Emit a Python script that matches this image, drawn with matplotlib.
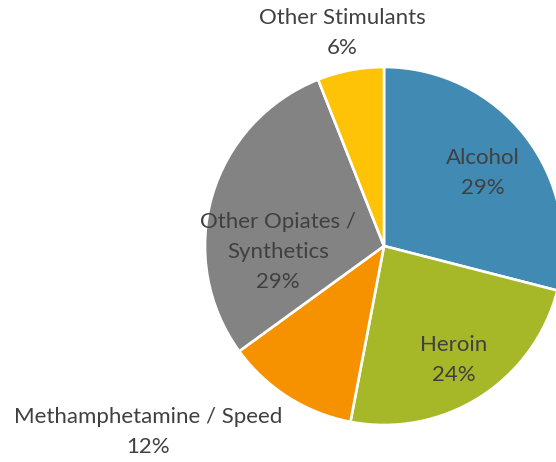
import matplotlib.pyplot as plt

labels = ["Alcohol", "Heroin", "Methamphetamine / Speed",
          "Other Opiates /\nSynthetics", "Other Stimulants"]
shares = [29, 24, 12, 29, 6]
colors = ["#418AB3", "#A6B727", "#F69200", "#838383", "#FEC306"]
# label anchor points in pie units (radius = 1)
label_pos = [(0.553, 0.408), (0.391, -0.637), (-1.318, -1.039),
             (-0.592, -0.034), (-0.235, 1.19)]

plt.rcParams["font.family"] = ["Lato", "DejaVu Sans"]

fig = plt.figure(figsize=(5.56, 4.62), dpi=100)
ax = fig.add_axes([0, 0, 1, 1])
ax.pie(shares, colors=colors, startangle=90, counterclock=False,
       wedgeprops={"edgecolor": "white", "linewidth": 1.9})
r_px = 179
cx, cy = 384, 246
ax.set_xlim(-cx / r_px, (556 - cx) / r_px)
ax.set_ylim(-(462 - cy) / r_px, cy / r_px)
ax.set_aspect("auto")
ax.axis("off")

for lab, val, (x, y) in zip(labels, shares, label_pos):
    ax.text(x, y, f"{lab}\n{val}%", ha="center", va="center",
            fontsize=16, color="#404040", linespacing=1.6)

fig.savefig("out.png", dpi=100)
